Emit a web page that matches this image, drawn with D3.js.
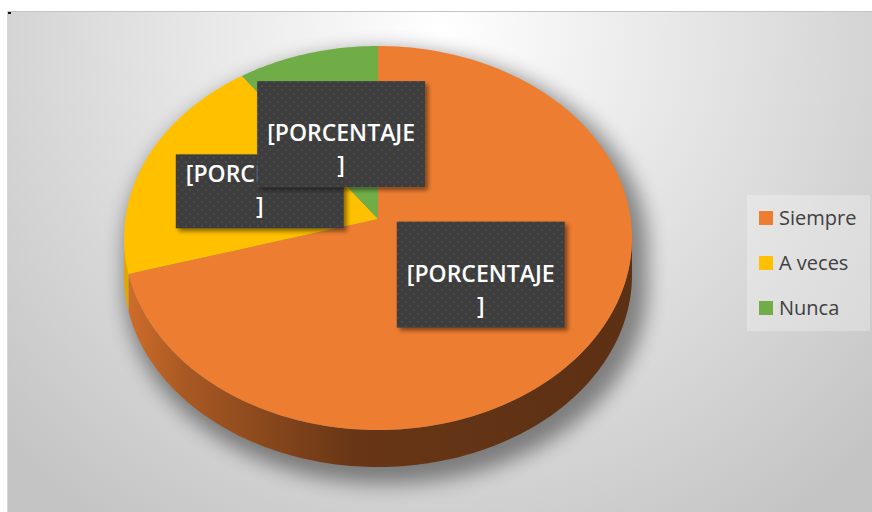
<!DOCTYPE html>
<html>
<head>
<meta charset="utf-8">
<script src="https://cdn.jsdelivr.net/npm/d3@7"></script>
<style>
  body { margin: 0; background: #fff; }
  svg { display: block; }
</style>
</head>
<body>
<svg id="chart" width="872" height="512"></svg>
<script>
// data
const categories = ['Siempre', 'A veces', 'Nunca'];
const values = [72, 19, 9];
const colors = ['#ED7D31', '#FFC000', '#70AD47'];
const sideColors = ['#5c3014', '#c08f00', '#4f7a32'];
const labelLines = ['[PORCENTAJE', ']'];

const svg = d3.select('#chart');
const defs = svg.append('defs');

// pie geometry (3d look: flattened ellipse + depth)
const cx = 378, cy = 238, rx = 254, ry = 192, depth = 37;
const apex = [378, 219];

function pt(a, dz) {
  return [cx + rx * Math.sin(a), cy - ry * Math.cos(a) + (dz || 0)];
}
function arcPts(a0, a1, dz) {
  const n = Math.max(2, Math.ceil(Math.abs(a1 - a0) / 0.02));
  return d3.range(n + 1).map(i => pt(a0 + (a1 - a0) * i / n, dz));
}
const line = d3.line();

// background
const bg = defs.append('radialGradient').attr('id', 'bg')
  .attr('gradientUnits', 'userSpaceOnUse')
  .attr('cx', 440).attr('cy', 30).attr('r', 600);
bg.append('stop').attr('offset', 0).attr('stop-color', '#ffffff');
bg.append('stop').attr('offset', 0.25).attr('stop-color', '#f0f0f0');
bg.append('stop').attr('offset', 1).attr('stop-color', '#c4c4c4');

svg.append('rect').attr('x', 7).attr('y', 11).attr('width', 865).attr('height', 501)
  .attr('fill', 'url(#bg)');
svg.append('line').attr('x1', 7).attr('x2', 872).attr('y1', 11.5).attr('y2', 11.5)
  .attr('stroke', '#c4c4c4');
svg.append('line').attr('x1', 7.5).attr('x2', 7.5).attr('y1', 11).attr('y2', 512)
  .attr('stroke', '#d6d6d6');
svg.append('rect').attr('x', 8).attr('y', 12).attr('width', 3).attr('height', 2).attr('fill', '#111');

// shadow under the pie
const blur = defs.append('filter').attr('id', 'blur')
  .attr('x', '-20%').attr('y', '-20%').attr('width', '140%').attr('height', '140%');
blur.append('feGaussianBlur').attr('stdDeviation', 10);

const outline = arcPts(-Math.PI / 2, Math.PI / 2, 0)
  .concat(arcPts(Math.PI / 2, 3 * Math.PI / 2, depth));
svg.append('path')
  .attr('d', line(outline) + 'Z')
  .attr('transform', `translate(${cx + 8},${cy + 10}) scale(1.03) translate(${-cx},${-cy})`)
  .attr('fill', '#000').attr('opacity', 0.42)
  .attr('filter', 'url(#blur)');

// slices
const pie = d3.pie().sort(null).value(d => d)
  .startAngle(0).endAngle(2 * Math.PI);
const arcs = pie(values);

// side gradients
arcs.forEach((d, i) => {
  const g = defs.append('linearGradient').attr('id', 'side' + i)
    .attr('gradientUnits', 'userSpaceOnUse')
    .attr('x1', cx - rx).attr('x2', cx + rx).attr('y1', 0).attr('y2', 0);
  const c = d3.color(colors[i]);
  g.append('stop').attr('offset', 0).attr('stop-color', c.darker(0.35));
  g.append('stop').attr('offset', 0.12).attr('stop-color', d3.interpolateRgb(c.darker(0.35), sideColors[i])(0.35));
  g.append('stop').attr('offset', 0.45).attr('stop-color', d3.interpolateRgb(c.darker(0.35), sideColors[i])(0.9));
  g.append('stop').attr('offset', 1).attr('stop-color', sideColors[i]);
});

const sides = svg.append('g');
arcs.forEach((d, i) => {
  const s = Math.max(d.startAngle, Math.PI / 2);
  const e = Math.min(d.endAngle, 3 * Math.PI / 2);
  if (s >= e) return;
  const p = arcPts(s, e, 0).concat(arcPts(e, s, depth));
  sides.append('path').attr('d', line(p) + 'Z').attr('fill', 'url(#side' + i + ')');
});

const tops = svg.append('g');
tops.selectAll('path').data(arcs).join('path')
  .attr('d', d => line([apex].concat(arcPts(d.startAngle, d.endAngle, 0))) + 'Z')
  .attr('fill', (d, i) => colors[i]);

// data labels
const pat = defs.append('pattern').attr('id', 'dots')
  .attr('patternUnits', 'userSpaceOnUse').attr('width', 8).attr('height', 8);
pat.append('rect').attr('width', 8).attr('height', 8).attr('fill', '#3e3e3e');
pat.append('circle').attr('cx', 2).attr('cy', 2).attr('r', 1.1).attr('fill', '#4d4d4d');
pat.append('circle').attr('cx', 6).attr('cy', 6).attr('r', 1.1).attr('fill', '#4d4d4d');

const ds = defs.append('filter').attr('id', 'ds')
  .attr('x', '-20%').attr('y', '-20%').attr('width', '150%').attr('height', '150%');
ds.append('feDropShadow').attr('dx', 3).attr('dy', 3).attr('stdDeviation', 2)
  .attr('flood-color', '#000').attr('flood-opacity', 0.45);

// label layout: anchor on the slice's mid angle, plus small nudges
const labelFrac = 0.52;
const nudge = [[1, -8], [3, 12], [0, 11]];
const blankLines = [1, 0, 1];
const boxW = 168, lineH = 32;
const drawOrder = [1, 2, 0];

const labels = svg.append('g')
  .style('font-family', '"Open Sans", "DejaVu Sans", sans-serif')
  .style('font-weight', 600).style('font-size', '23px');

drawOrder.forEach(i => {
  const d = arcs[i];
  const m = (d.startAngle + d.endAngle) / 2;
  const ax = apex[0] + rx * labelFrac * Math.sin(m) + nudge[i][0];
  const ay = apex[1] - ry * labelFrac * Math.cos(m) + nudge[i][1];
  const nLines = labelLines.length + blankLines[i];
  const h = 10 + lineH * nLines;
  const x0 = ax - boxW / 2, y0 = ay - h / 2;
  const g = labels.append('g');
  g.append('rect').attr('x', x0).attr('y', y0).attr('width', boxW).attr('height', h)
    .attr('fill', 'url(#dots)').attr('filter', 'url(#ds)');
  labelLines.forEach((t, k) => {
    g.append('text')
      .attr('x', ax)
      .attr('y', y0 + 28 + lineH * (k + blankLines[i]))
      .attr('text-anchor', 'middle')
      .attr('fill', '#ffffff')
      .text(t);
  });
});

// legend
const legend = svg.append('g').attr('transform', 'translate(747,195)');
legend.append('rect').attr('width', 123).attr('height', 136)
  .attr('fill', '#ffffff').attr('opacity', 0.28);
const items = legend.selectAll('g.item').data(categories).join('g')
  .attr('class', 'item')
  .attr('transform', (d, i) => `translate(12,${16 + i * 45})`);
items.append('rect').attr('width', 14).attr('height', 14)
  .attr('fill', (d, i) => colors[i]);
items.append('text').attr('x', 20).attr('y', 14)
  .style('font-family', '"Open Sans", "DejaVu Sans", sans-serif')
  .style('font-size', '20px').attr('fill', '#404040')
  .text(d => d);
</script>
</body>
</html>
